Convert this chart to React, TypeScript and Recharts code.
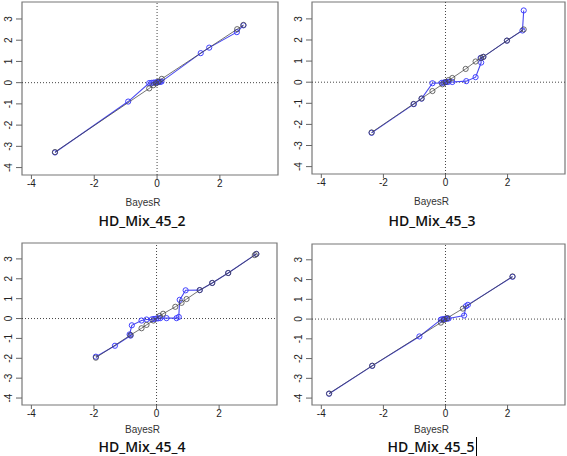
import React from "react";
import {
  ScatterChart,
  Scatter,
  XAxis,
  YAxis,
  ReferenceLine,
  ReferenceArea
} from "recharts";

type Pt = { x: number; y: number };

const xTicks = [-4, -2, 0, 2];
const yTicks = [-4, -3, -2, -1, 0, 1, 2, 3];
const titles = ["HD_Mix_45_2", "HD_Mix_45_3", "HD_Mix_45_4", "HD_Mix_45_5"];

const mix2Gray: Pt[] = [
  { x: -3.25, y: -3.27 }, { x: -0.25, y: -0.27 }, { x: -0.12, y: -0.12 },
  { x: -0.03, y: -0.03 }, { x: 0.05, y: 0.05 }, { x: 0.15, y: 0.18 },
  { x: 2.55, y: 2.52 }, { x: 2.75, y: 2.72 }
];
const mix2Blue: Pt[] = [
  { x: -3.25, y: -3.29 }, { x: -0.92, y: -0.89 }, { x: -0.25, y: -0.02 },
  { x: -0.18, y: -0.01 }, { x: -0.12, y: 0 }, { x: -0.06, y: 0.01 },
  { x: -0.02, y: 0.01 }, { x: 0.02, y: 0.02 }, { x: 0.06, y: 0.03 },
  { x: 0.1, y: 0.04 }, { x: 0.14, y: 0.05 }, { x: 1.39, y: 1.39 },
  { x: 1.66, y: 1.65 }, { x: 2.54, y: 2.38 }, { x: 2.75, y: 2.7 }
];

const mix3Gray: Pt[] = [
  { x: -2.38, y: -2.38 }, { x: -1.03, y: -1.03 }, { x: -0.77, y: -0.77 },
  { x: -0.42, y: -0.42 }, { x: -0.1, y: -0.1 }, { x: 0, y: 0 },
  { x: 0.1, y: 0.1 }, { x: 0.22, y: 0.2 }, { x: 0.65, y: 0.63 },
  { x: 0.97, y: 0.98 }, { x: 1.15, y: 1.15 }, { x: 1.22, y: 1.2 },
  { x: 1.98, y: 1.97 }, { x: 2.52, y: 2.5 }
];
const mix3Blue: Pt[] = [
  { x: -2.38, y: -2.4 }, { x: -1.02, y: -1.04 }, { x: -0.77, y: -0.78 },
  { x: -0.42, y: -0.05 }, { x: -0.12, y: -0.03 }, { x: -0.06, y: -0.02 },
  { x: 0, y: 0 }, { x: 0.05, y: 0.01 }, { x: 0.1, y: 0.02 },
  { x: 0.22, y: 0.01 }, { x: 0.67, y: 0.05 }, { x: 0.97, y: 0.24 },
  { x: 1.15, y: 0.93 }, { x: 1.13, y: 1.15 }, { x: 1.22, y: 1.2 },
  { x: 1.98, y: 1.97 }, { x: 2.48, y: 2.45 }, { x: 2.52, y: 3.4 }
];

const mix4Gray: Pt[] = [
  { x: -1.94, y: -1.97 }, { x: -0.83, y: -0.83 }, { x: -0.48, y: -0.49 },
  { x: -0.32, y: -0.32 }, { x: -0.1, y: -0.1 }, { x: 0.1, y: 0.13 },
  { x: 0.21, y: 0.24 }, { x: 0.6, y: 0.59 }, { x: 0.8, y: 0.79 },
  { x: 0.96, y: 0.98 }, { x: 1.38, y: 1.43 }, { x: 1.78, y: 1.79 },
  { x: 2.29, y: 2.29 }, { x: 3.14, y: 3.19 }, { x: 3.19, y: 3.25 }
];
const mix4Blue: Pt[] = [
  { x: -1.94, y: -1.92 }, { x: -1.33, y: -1.37 }, { x: -0.83, y: -0.86 },
  { x: -0.86, y: -0.8 }, { x: -0.79, y: -0.34 }, { x: -0.48, y: -0.1 },
  { x: -0.32, y: -0.05 }, { x: -0.15, y: -0.04 }, { x: -0.08, y: -0.02 },
  { x: 0, y: 0 }, { x: 0.06, y: 0.01 }, { x: 0.12, y: 0.02 },
  { x: 0.32, y: 0.02 }, { x: 0.64, y: 0.02 }, { x: 0.71, y: 0.08 },
  { x: 0.74, y: 0.94 }, { x: 0.93, y: 1.42 }, { x: 1.38, y: 1.43 },
  { x: 1.78, y: 1.79 }, { x: 2.29, y: 2.29 }, { x: 3.19, y: 3.25 }
];

const mix5Gray: Pt[] = [
  { x: -3.75, y: -3.77 }, { x: -2.36, y: -2.36 }, { x: -0.15, y: -0.18 },
  { x: -0.05, y: -0.05 }, { x: 0.05, y: 0.05 }, { x: 0.56, y: 0.53 },
  { x: 2.16, y: 2.16 }
];
const mix5Blue: Pt[] = [
  { x: -3.75, y: -3.78 }, { x: -2.36, y: -2.37 }, { x: -0.84, y: -0.88 },
  { x: -0.15, y: -0.03 }, { x: -0.1, y: -0.01 }, { x: -0.05, y: 0 },
  { x: 0, y: 0.02 }, { x: 0.05, y: 0.02 }, { x: 0.1, y: 0.03 },
  { x: 0.6, y: 0.18 }, { x: 0.66, y: 0.65 }, { x: 0.72, y: 0.72 },
  { x: 2.16, y: 2.14 }
];

const grays = [mix2Gray, mix3Gray, mix4Gray, mix5Gray];
const blues = [mix2Blue, mix3Blue, mix4Blue, mix5Blue];

const layout = [
  { boxLeft: 22, boxTop: 2, boxW: 256, boxH: 173, axisH: 33, titleY: 211, titleLeft: 0 },
  { boxLeft: 312, boxTop: 2, boxW: 253, boxH: 172, axisH: 33, titleY: 211, titleLeft: 290 },
  { boxLeft: 22, boxTop: 243, boxW: 255, boxH: 162, axisH: 30, titleY: 437, titleLeft: 0 },
  { boxLeft: 312, boxTop: 244, boxW: 253, boxH: 161, axisH: 30, titleY: 437, titleLeft: 290 }
];

const XDOM: [number, number] = [-4.3, 3.85];
const YDOM: [number, number] = [-4.35, 3.8];
const FONT = "Liberation Sans, Arial, sans-serif";

const dot = (color: string) => (p: any) => (
  <circle cx={p.cx} cy={p.cy} r={2.6} fill="none" stroke={color} strokeWidth={1} />
);

const YTick = (props: any) => {
  const { x, y, payload } = props;
  return (
    <text
      x={x}
      y={y}
      transform={`rotate(-90 ${x} ${y})`}
      textAnchor="middle"
      fontSize={10}
      fill="#222"
      fontFamily={FONT}
    >
      {payload.value}
    </text>
  );
};

function Panel({ i }: { i: number }) {
  const l = layout[i];
  const w = 22 + l.boxW + 3;
  const h = 2 + l.boxH + l.axisH;
  return (
    <>
      <div style={{ position: "absolute", left: l.boxLeft - 22, top: l.boxTop - 2 }}>
        <ScatterChart width={w} height={h} margin={{ top: 2, right: 3, bottom: 0, left: 0 }}>
          <XAxis
            type="number"
            dataKey="x"
            domain={XDOM}
            ticks={xTicks}
            interval={0}
            allowDataOverflow
            axisLine={false}
            tickSize={4}
            tickMargin={1}
            height={l.axisH}
            tick={{ fontSize: 10, fill: "#222", fontFamily: FONT }}
            tickLine={{ stroke: "#666" }}
            label={{
              value: "BayesR",
              position: "insideBottom",
              offset: 2,
              dx: -7,
              fontSize: 10,
              fill: "#333",
              fontFamily: FONT
            }}
          />
          <YAxis
            type="number"
            dataKey="y"
            domain={YDOM}
            ticks={yTicks}
            interval={0}
            allowDataOverflow
            axisLine={false}
            width={22}
            tickSize={6}
            tickMargin={4}
            tickLine={{ stroke: "#666" }}
            tick={<YTick />}
          />
          <ReferenceArea
            x1={XDOM[0]}
            x2={XDOM[1]}
            y1={YDOM[0]}
            y2={YDOM[1]}
            fill="none"
            stroke="#777"
            strokeWidth={1.2}
          />
          <ReferenceLine x={0} stroke="#444" strokeDasharray="1 2" />
          <ReferenceLine y={0} stroke="#444" strokeDasharray="1 2" />
          <Scatter
            data={blues[i]}
            line={{ stroke: "#4848f0", strokeWidth: 1.1 }}
            shape={dot("#4040ff")}
            isAnimationActive={false}
          />
          <Scatter
            data={grays[i]}
            line={{ stroke: "#444", strokeWidth: 1, strokeOpacity: 0.75 }}
            shape={dot("rgba(70,70,70,0.8)")}
            isAnimationActive={false}
          />
        </ScatterChart>
      </div>
      <div
        style={{
          position: "absolute",
          left: l.titleLeft,
          top: l.titleY,
          width: 284,
          textAlign: "center",
          fontFamily: "Open Sans, Noto Sans, sans-serif",
          fontWeight: 600,
          fontSize: 14,
          color: "#111"
        }}
      >
        <span style={{ borderRight: i === 3 ? "1px solid #000" : "none", paddingRight: i === 3 ? 1 : 0 }}>
          {titles[i]}
        </span>
      </div>
    </>
  );
}

export default function App() {
  return (
    <div
      style={{
        position: "absolute",
        left: 0,
        top: 0,
        width: 567,
        height: 456,
        background: "#fff",
        overflow: "hidden"
      }}
    >
      {[0, 1, 2, 3].map((i) => (
        <Panel key={i} i={i} />
      ))}
    </div>
  );
}
